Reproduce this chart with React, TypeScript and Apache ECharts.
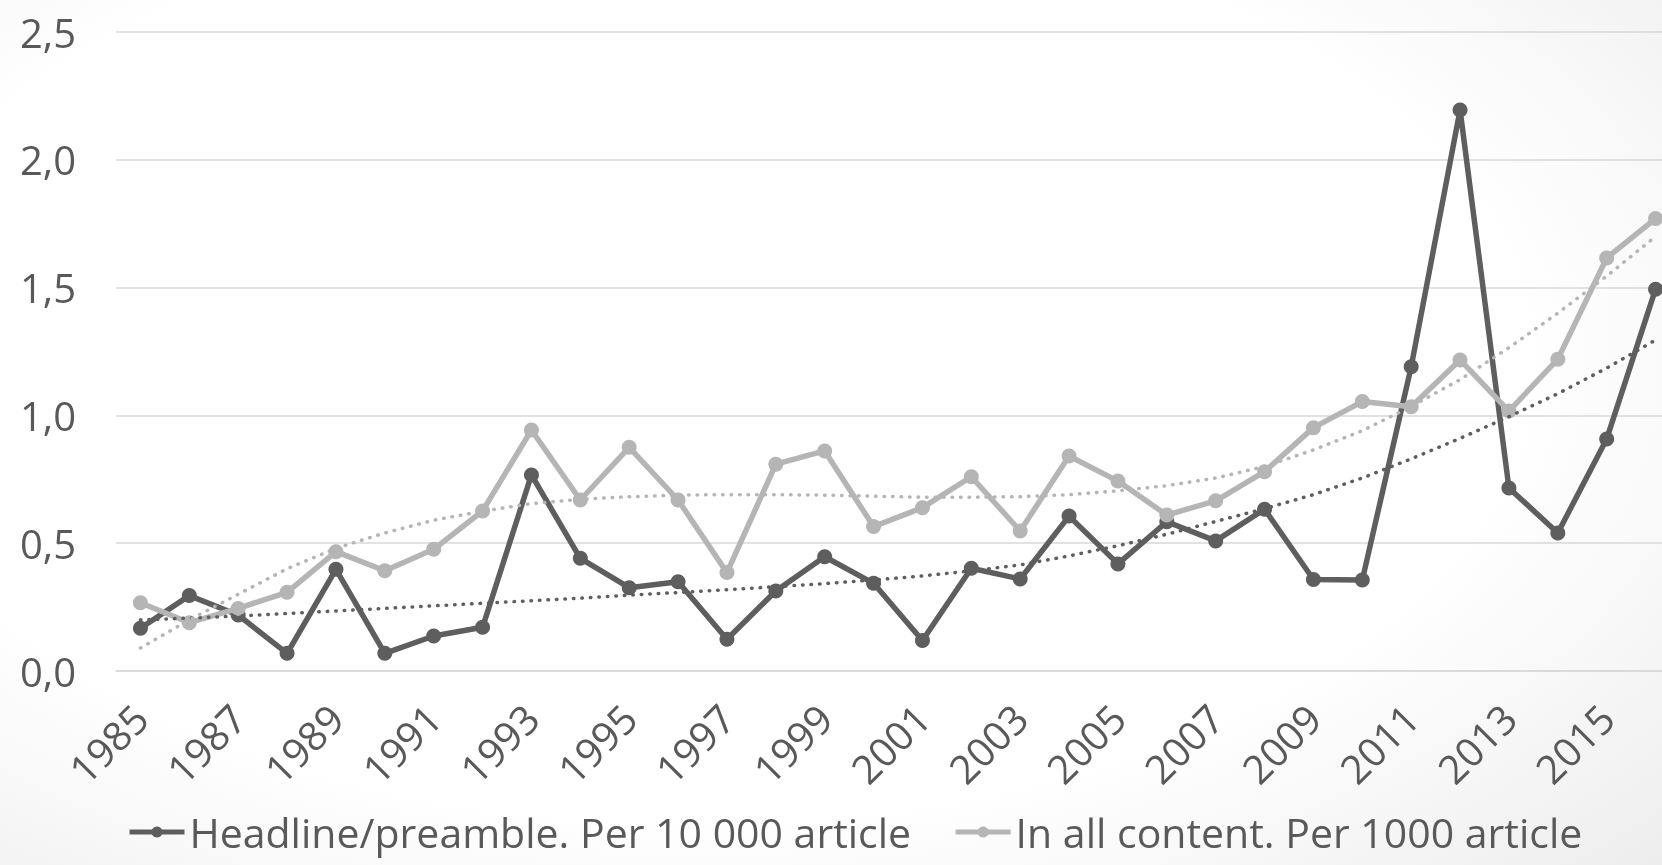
import React, { useEffect, useRef } from "react";
import * as echarts from "echarts";

const years = [
  "1985", "1986", "1987", "1988", "1989", "1990", "1991", "1992",
  "1993", "1994", "1995", "1996", "1997", "1998", "1999", "2000",
  "2001", "2002", "2003", "2004", "2005", "2006", "2007", "2008",
  "2009", "2010", "2011", "2012", "2013", "2014", "2015", "2016",
];

const headlineName = "Headline/preamble. Per 10 000 article";
const allContentName = "In all content. Per 1000 article";

const headline = [
  0.167, 0.295, 0.219, 0.069, 0.398, 0.069, 0.137, 0.171,
  0.767, 0.441, 0.326, 0.349, 0.124, 0.313, 0.447, 0.343,
  0.119, 0.402, 0.36, 0.606, 0.419, 0.584, 0.509, 0.633,
  0.358, 0.356, 1.19, 2.195, 0.716, 0.54, 0.908, 1.494,
];

const allContent = [
  0.267, 0.189, 0.245, 0.308, 0.467, 0.392, 0.476, 0.626,
  0.943, 0.669, 0.875, 0.669, 0.385, 0.809, 0.861, 0.565,
  0.639, 0.76, 0.548, 0.841, 0.743, 0.61, 0.666, 0.78,
  0.952, 1.054, 1.034, 1.217, 1.017, 1.22, 1.616, 1.77,
];

const headlineTrend = [
  0.2, 0.207, 0.215, 0.225, 0.235, 0.245, 0.255, 0.265,
  0.275, 0.285, 0.297, 0.307, 0.318, 0.33, 0.342, 0.356,
  0.372, 0.392, 0.415, 0.45, 0.49, 0.535, 0.585, 0.635,
  0.69, 0.755, 0.83, 0.91, 0.995, 1.085, 1.185, 1.295,
];

const allContentTrend = [
  0.09, 0.2, 0.3, 0.4, 0.48, 0.54, 0.59, 0.625,
  0.655, 0.672, 0.682, 0.688, 0.69, 0.69, 0.688, 0.684,
  0.68, 0.68, 0.682, 0.69, 0.705, 0.725, 0.755, 0.8,
  0.865, 0.94, 1.035, 1.14, 1.265, 1.4, 1.545, 1.7,
];

const DARK = "#5e5e5e";
const LIGHT = "#b5b5b5";
const TEXT = "#595959";
const GRID = "#d9d9d9";
const FONT = "'Open Sans', Roboto, sans-serif";

export default function App() {
  const ref = useRef<HTMLDivElement>(null);

  useEffect(() => {
    if (!ref.current) return;
    const chart = echarts.init(ref.current, null, { renderer: "svg" });
    chart.setOption({
      animation: false,
      backgroundColor: "transparent",
      textStyle: { fontFamily: FONT },
      grid: { left: 116, top: 32, width: 1564, height: 639, containLabel: false },
      legend: {
        data: [{ name: headlineName }, { name: allContentName }],
        left: 122,
        top: 805,
        itemWidth: 55,
        itemHeight: 14,
        itemGap: 42,
        lineStyle: { width: 5 },
        textStyle: { fontSize: 41, lineHeight: 44, color: TEXT, fontFamily: FONT },
      },
      xAxis: {
        type: "category",
        data: years,
        boundaryGap: true,
        axisLine: { show: true, lineStyle: { color: GRID, width: 1.5 } },
        axisTick: { show: false },
        axisLabel: {
          interval: 1,
          rotate: 45,
          margin: 40,
          fontSize: 40,
          color: TEXT,
          fontFamily: FONT,
        },
      },
      yAxis: {
        type: "value",
        min: 0,
        max: 2.5,
        interval: 0.5,
        axisLine: { show: false },
        axisTick: { show: false },
        splitLine: { lineStyle: { color: GRID, width: 1.5 } },
        axisLabel: {
          margin: 40,
          fontSize: 40,
          color: TEXT,
          fontFamily: FONT,
          formatter: (v: number) => v.toFixed(1).replace(".", ","),
        },
      },
      series: [
        {
          name: headlineName,
          type: "line",
          data: headline,
          symbol: "circle",
          symbolSize: 15,
          itemStyle: { color: DARK },
          lineStyle: { color: DARK, width: 5.5 },
          z: 3,
        },
        {
          name: allContentName,
          type: "line",
          data: allContent,
          symbol: "circle",
          symbolSize: 15,
          itemStyle: { color: LIGHT },
          lineStyle: { color: LIGHT, width: 5.5 },
          z: 4,
        },
        {
          name: "trend-headline",
          type: "line",
          data: headlineTrend,
          symbol: "none",
          silent: true,
          lineStyle: { color: DARK, width: 3.5, type: [0.5, 8], cap: "round" },
          z: 5,
        },
        {
          name: "trend-all",
          type: "line",
          data: allContentTrend,
          symbol: "none",
          silent: true,
          lineStyle: { color: LIGHT, width: 3.5, type: [0.5, 8], cap: "round" },
          z: 5,
        },
      ],
    });
    return () => chart.dispose();
  }, []);

  return (
    <div
      style={{
        position: "fixed",
        left: 0,
        top: 0,
        width: 1662,
        height: 865,
        overflow: "hidden",
        background:
          "radial-gradient(ellipse 80% 85% at 42% 42%, #ffffff 62%, #ededed 100%)",
      }}
    >
      <div ref={ref} style={{ width: 1700, height: 865 }} />
    </div>
  );
}
